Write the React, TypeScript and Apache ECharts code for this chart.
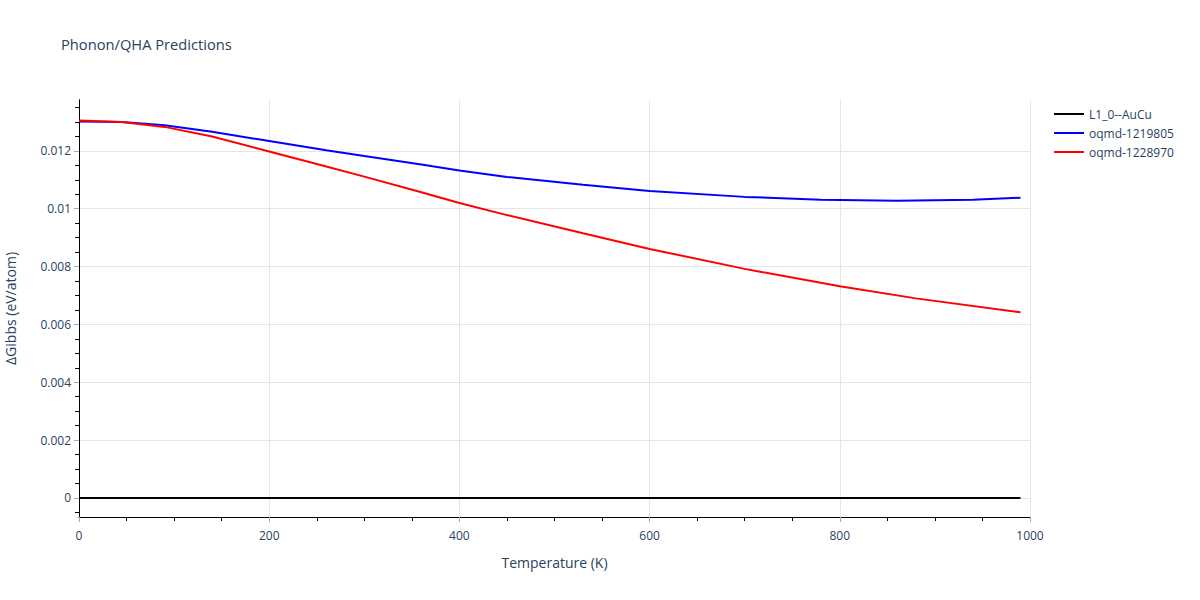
import React, { useEffect, useRef } from "react";
import * as echarts from "echarts";

const temps0 = [0, 990];
const values0 = [0, 0];

const tempsBlue = [0, 45, 90, 140, 200, 260, 300, 360, 400, 450, 530, 600, 700, 780, 860, 940, 990];
const valuesBlue = [0.01302, 0.013, 0.01289, 0.01266, 0.01234, 0.01202, 0.01182, 0.01153, 0.01132, 0.0111, 0.01083, 0.01061, 0.01041, 0.01031, 0.01028, 0.01031, 0.01038];

const tempsRed = [0, 45, 90, 140, 200, 260, 300, 360, 400, 450, 530, 600, 700, 800, 880, 990];
const valuesRed = [0.01305, 0.013, 0.01283, 0.0125, 0.01198, 0.01146, 0.01111, 0.01057, 0.0102, 0.00978, 0.00915, 0.00861, 0.00792, 0.00732, 0.0069, 0.00642];

const seriesNames = ["L1_0--AuCu", "oqmd-1219805", "oqmd-1228970"];
const seriesColors = ["#000000", "#0000ff", "#ff0000"];

const yMajorTicks = [0, 0.002, 0.004, 0.006, 0.008, 0.01, 0.012];
const yMinorTicks = [-0.0005, 0.0005, 0.001, 0.0015, 0.0025, 0.003, 0.0035, 0.0045, 0.005, 0.0055, 0.0065, 0.007, 0.0075, 0.0085, 0.009, 0.0095, 0.0105, 0.011, 0.0115, 0.0125, 0.013, 0.0135];
const yMin = -0.00066;
const yMax = 0.01376;

const textColor = "#2a3f5f";
const font = "'Open Sans', Verdana, Arial, sans-serif";

function pairs(xs: number[], ys: number[]) {
  return xs.map((x, i) => [x, ys[i]]);
}

export default function App() {
  const ref = useRef<HTMLDivElement>(null);
  useEffect(() => {
    if (!ref.current) return;
    const chart = echarts.init(ref.current, undefined, { renderer: "svg" });
    const data = [pairs(temps0, values0), pairs(tempsBlue, valuesBlue), pairs(tempsRed, valuesRed)];
    chart.setOption({
      animation: false,
      backgroundColor: "#ffffff",
      textStyle: { fontFamily: font },
      title: {
        text: "Phonon/QHA Predictions",
        left: 56,
        top: 31,
        textStyle: { fontFamily: font, fontSize: 14.7, fontWeight: "normal", color: textColor },
      },
      legend: {
        orient: "vertical",
        left: 1049,
        top: 103,
        itemWidth: 30,
        itemHeight: 2,
        itemGap: 7,
        icon: "rect",
        data: seriesNames,
        textStyle: { fontFamily: font, fontSize: 12, color: textColor },
      },
      grid: { left: 79, right: 170, top: 100, bottom: 83, containLabel: false, outerBoundsMode: "none" },
      xAxis: {
        type: "value",
        min: 0,
        max: 1000,
        interval: 200,
        name: "Temperature (K)",
        nameLocation: "middle",
        nameGap: 38,
        nameTextStyle: { fontFamily: font, fontSize: 14, color: textColor },
        axisLine: { show: true, onZero: false, lineStyle: { color: "#000000", width: 1 } },
        axisTick: { show: true, inside: false, length: 5, lineStyle: { color: "#aaaaaa", width: 1 } },
        minorTick: { show: true, splitNumber: 4, length: 4, lineStyle: { color: "#000000", width: 1 } },
        axisLabel: { fontFamily: font, fontSize: 12, color: textColor, margin: 12, formatter: (v: number) => String(v) },
        splitLine: { show: true, lineStyle: { color: "#e5e5e5", width: 1 } },
      },
      yAxis: [
        {
          type: "value",
          min: yMin,
          max: yMax,
          name: "ΔGibbs (eV/atom)",
          nameLocation: "middle",
          nameGap: 62,
          nameTextStyle: { fontFamily: font, fontSize: 14, color: textColor },
          axisLine: { show: true, onZero: false, lineStyle: { color: "#000000", width: 1 } },
          axisTick: { show: true, inside: false, length: 5, customValues: yMajorTicks, lineStyle: { color: "#aaaaaa", width: 1 } },
          axisLabel: { fontFamily: font, fontSize: 12, color: textColor, margin: 8, customValues: yMajorTicks, formatter: (v: number) => String(v) },
          splitLine: { show: true, lineStyle: { color: "#e5e5e5", width: 1 } },
        },
        {
          type: "value",
          min: yMin,
          max: yMax,
          position: "left",
          offset: 0,
          axisLine: { show: true, onZero: false, lineStyle: { color: "#000000", width: 1 } },
          axisTick: { show: true, inside: false, length: 4, customValues: yMinorTicks, lineStyle: { color: "#000000", width: 1 } },
          axisLabel: { show: false },
          splitLine: { show: false },
        },
      ],
      series: seriesNames.map((name, i) => ({
        name,
        type: "line",
        yAxisIndex: 0,
        data: data[i],
        showSymbol: false,
        symbol: "none",
        smooth: false,
        lineStyle: { color: seriesColors[i], width: 2 },
        itemStyle: { color: seriesColors[i] },
        z: i === 0 ? 3 : 4,
      })),
    });
    return () => chart.dispose();
  }, []);
  return <div ref={ref} style={{ position: "absolute", left: 0, top: 0, width: 1200, height: 600 }} />;
}
